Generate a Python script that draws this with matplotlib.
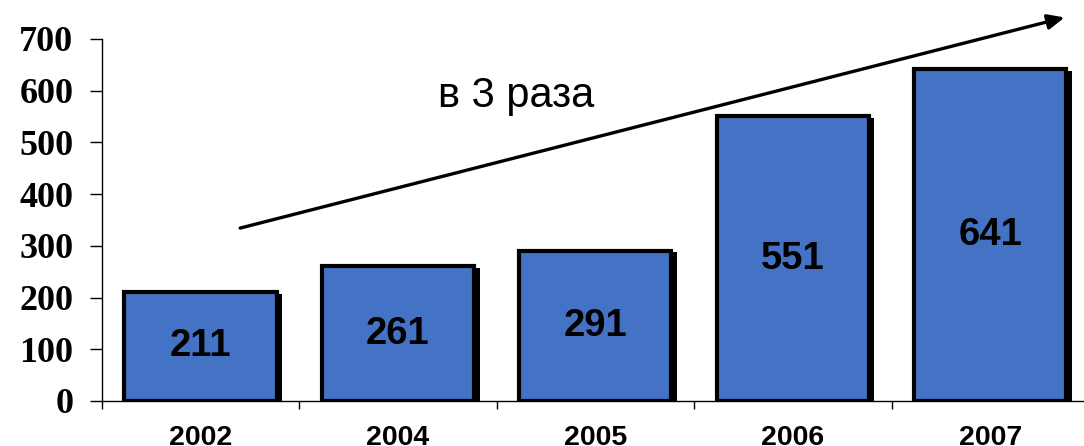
import matplotlib
matplotlib.use("Agg")
import matplotlib.pyplot as plt
import matplotlib.patheffects as pe

years = ['2002', '2004', '2005', '2006', '2007']
values = [211, 261, 291, 551, 641]
y_ticks = [0, 100, 200, 300, 400, 500, 600, 700]
note = 'в 3 раза'

fig = plt.figure(figsize=[10.84, 4.46], dpi=100)
ax = fig.add_axes([0.0939, 0.1009, 0.9107, 0.8117])

x = list(range(len(years)))
bars = ax.bar(x, values, width=0.77, color='#4472C4', edgecolor='black', linewidth=3, zorder=3)
for b in bars:
    b.set_path_effects([pe.SimplePatchShadow(offset=(4, -1.2), shadow_rgbFace='black', alpha=1.0),
                        pe.Normal()])

for xi, v in zip(x, values):
    ax.text(xi, v / 2, str(v), ha='center', va='center', fontsize=27.5,
            fontweight='bold', family='Liberation Sans', zorder=4)

ax.set_xlim(-0.5, len(years) - 0.5)
ax.set_ylim(0, 700)
ax.set_yticks(y_ticks)
ax.set_yticklabels([str(t) for t in y_ticks], family='Liberation Serif', fontweight='bold', fontsize=26)
# year boundaries carry the ticks, labels sit at bar centres
ax.set_xticks([i + 0.5 for i in range(-1, len(years))], minor=False)
ax.set_xticklabels([])
ax.set_xticks(x, minor=True)
ax.set_xticklabels(years, minor=True, family='Liberation Sans', fontweight='bold', fontsize=20.5)
ax.tick_params(axis='x', which='minor', length=0, pad=17.5)
ax.tick_params(axis='x', which='major', length=6, width=1)
ax.tick_params(axis='y', length=8.5, width=1, pad=12)

for s in ['top', 'right']:
    ax.spines[s].set_visible(False)
ax.spines['left'].set_linewidth(1)
ax.spines['bottom'].set_linewidth(1)

ax.annotate('', xy=(4.39, 743), xytext=(0.187, 333),
            arrowprops=dict(arrowstyle='-|>,head_length=1.0,head_width=0.45', color='black', lw=2.4),
            annotation_clip=False, zorder=5)
ax.text(1.6, 590, note, ha='center', va='center', fontsize=30, family='Liberation Sans')

fig.savefig('out.png', dpi=100)
